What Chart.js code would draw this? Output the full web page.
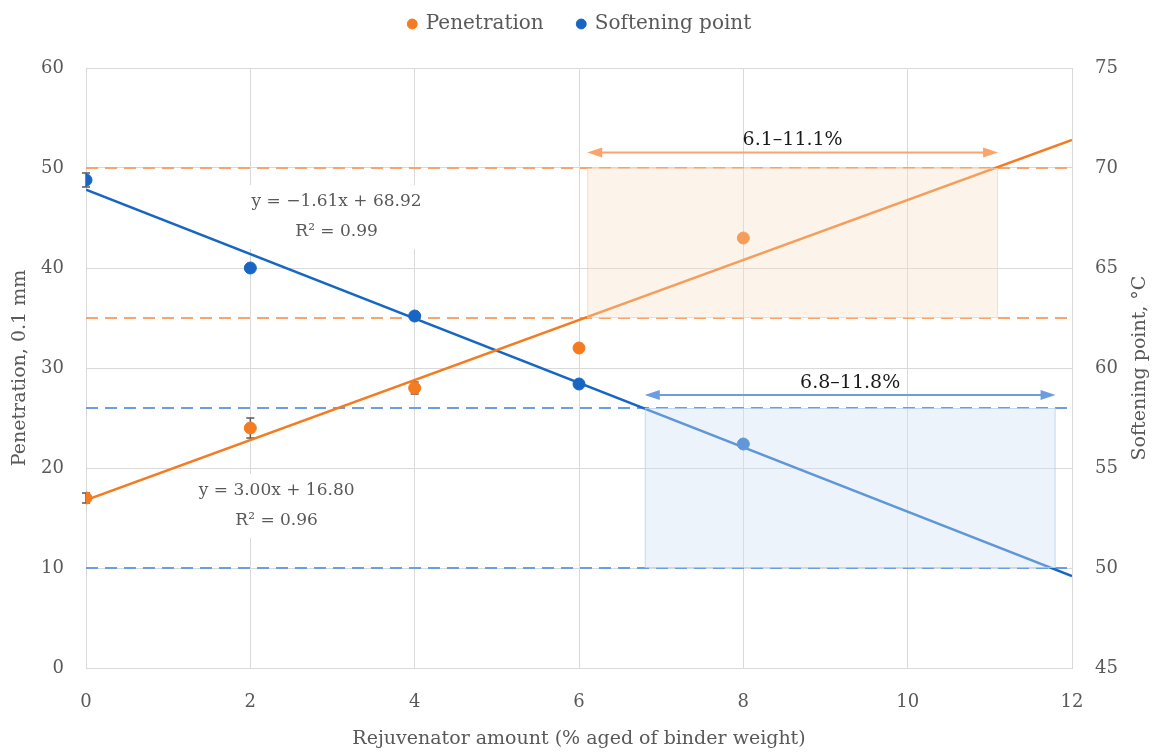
<!DOCTYPE html>
<html>
<head>
<meta charset="utf-8">
<script src="https://cdn.jsdelivr.net/npm/chart.js@4/dist/chart.umd.min.js"></script>
<style>
  html, body { margin: 0; padding: 0; background: #ffffff; }
  #wrap { width: 1160px; height: 754px; position: relative; }
</style>
</head>
<body>
<div id="wrap"><canvas id="chart"></canvas></div>
<script>
// Measured properties vs. rejuvenator dosage
const amounts = [0, 2, 4, 6, 8];
const penetration = [17, 24, 28, 32, 43];          // 0.1 mm
const penetrationErr = [0.5, 1.0, 0.6, 0, 0];
const softening = [69.4, 65.0, 62.6, 59.2, 56.2];   // °C
const softeningErr = [0.35, 0, 0, 0, 0];

// Linear fits
const penFit = { slope: 3.00, intercept: 16.80, r2: 0.96 };
const softFit = { slope: -1.61, intercept: 68.92, r2: 0.99 };

// Specification limits and the dosage ranges that satisfy them
const penLimits = [35, 50];
const softLimits = [50, 58];
const penRange = [6.1, 11.1];
const softRange = [6.8, 11.8];

const xTicks = [0, 2, 4, 6, 8, 10, 12];

const ORANGE = '#F47B20';
const BLUE = '#1766C4';
const ORANGE_LIGHT = '#F9A46C';
const BLUE_LIGHT = '#6C9DE0';
const TEXT = '#595959';
const FONT = "'DejaVu Serif', serif";

const xMin = xTicks[0], xMax = xTicks[xTicks.length - 1];
const fitLine = (f) => [xMin, xMax].map(x => ({ x, y: f.slope * x + f.intercept }));
const points = (vals) => amounts.map((x, i) => ({ x, y: vals[i] }));
const hLine = (v) => [{ x: xMin, y: v }, { x: xMax, y: v }];

const fmtEq = (f) => 'y = ' + (f.slope < 0 ? '\u2212' : '') + Math.abs(f.slope).toFixed(2) +
  'x + ' + f.intercept.toFixed(2);
const fmtR2 = (f) => 'R\u00B2 = ' + f.r2.toFixed(2);

const dashed = (v, color, axis) => ({
  type: 'line', data: hLine(v), yAxisID: axis, borderColor: color, borderWidth: 2,
  borderDash: [12, 7], pointRadius: 0, fill: false
});

const overlays = {
  id: 'overlays',
  beforeDatasetsDraw(chart) {
    const { ctx } = chart;
    const xs = chart.scales.x;
    const sets = [
      { vals: penetration, err: penetrationErr, scale: chart.scales.y },
      { vals: softening, err: softeningErr, scale: chart.scales.y2 }
    ];
    ctx.save();
    ctx.strokeStyle = TEXT;
    ctx.lineWidth = 1.5;
    sets.forEach(s => {
      amounts.forEach((a, i) => {
        if (!s.err[i]) return;
        const px = xs.getPixelForValue(a);
        const y1 = s.scale.getPixelForValue(s.vals[i] + s.err[i]);
        const y2 = s.scale.getPixelForValue(s.vals[i] - s.err[i]);
        ctx.beginPath();
        ctx.moveTo(px, y1); ctx.lineTo(px, y2);
        ctx.moveTo(px - 4, y1); ctx.lineTo(px + 4, y1);
        ctx.moveTo(px - 4, y2); ctx.lineTo(px + 4, y2);
        ctx.stroke();
      });
    });
    ctx.restore();
  },
  afterDatasetsDraw(chart) {
    const { ctx } = chart;
    const xs = chart.scales.x, yl = chart.scales.y, yr = chart.scales.y2;

    const band = (range, lim, scale, fill, stroke) => {
      const x1 = xs.getPixelForValue(range[0]), x2 = xs.getPixelForValue(range[1]);
      const y1 = scale.getPixelForValue(lim[1]), y2 = scale.getPixelForValue(lim[0]);
      ctx.fillStyle = fill;
      ctx.fillRect(x1, y1, x2 - x1, y2 - y1);
      ctx.strokeStyle = stroke;
      ctx.lineWidth = 1;
      ctx.strokeRect(x1 + 0.5, y1 + 0.5, x2 - x1 - 1, y2 - y1 - 1);
    };

    const arrow = (range, level, scale, color) => {
      const x1 = xs.getPixelForValue(range[0]), x2 = xs.getPixelForValue(range[1]);
      const y = scale.getPixelForValue(level);
      const L = 15, H = 5;
      ctx.strokeStyle = color; ctx.fillStyle = color; ctx.lineWidth = 2;
      ctx.beginPath(); ctx.moveTo(x1 + L - 2, y); ctx.lineTo(x2 - L + 2, y); ctx.stroke();
      ctx.beginPath(); ctx.moveTo(x1, y); ctx.lineTo(x1 + L, y - H); ctx.lineTo(x1 + L, y + H); ctx.closePath(); ctx.fill();
      ctx.beginPath(); ctx.moveTo(x2, y); ctx.lineTo(x2 - L, y - H); ctx.lineTo(x2 - L, y + H); ctx.closePath(); ctx.fill();
      ctx.fillStyle = '#1a1a1a';
      ctx.font = '19px ' + FONT;
      ctx.textAlign = 'center';
      ctx.textBaseline = 'middle';
      ctx.fillText(range[0].toFixed(1) + '\u2013' + range[1].toFixed(1) + '%', (x1 + x2) / 2, y - 12);
    };

    const eqLabel = (f, xv, yv) => {
      const cx = xs.getPixelForValue(xv), cy = yl.getPixelForValue(yv);
      const lines = [fmtEq(f), fmtR2(f)];
      ctx.font = '17px ' + FONT;
      const w = Math.max(...lines.map(t => ctx.measureText(t).width)) + 8;
      const lh = 30;
      ctx.fillStyle = '#ffffff';
      ctx.fillRect(cx - w / 2, cy - lh - 2, w, lh * 2 + 4);
      ctx.fillStyle = TEXT;
      ctx.textAlign = 'center';
      ctx.textBaseline = 'middle';
      ctx.fillText(lines[0], cx, cy - lh / 2);
      ctx.fillText(lines[1], cx, cy + lh / 2);
    };

    ctx.save();
    band(penRange, penLimits, yl, 'rgba(246,221,200,0.36)', 'rgba(248,205,175,0.6)');
    band(softRange, softLimits, yr, 'rgba(208,225,243,0.40)', 'rgba(175,207,240,0.7)');
    arrow(penRange, 51.55, yl, ORANGE_LIGHT);
    arrow(softRange, 58.65, yr, BLUE_LIGHT);
    eqLabel(softFit, 3.05, 45.1);
    eqLabel(penFit, 2.32, 16.2);
    ctx.restore();
  },
  afterDraw(chart) {
    // secondary axis title, reading bottom-to-top
    const { ctx } = chart;
    const a = chart.chartArea;
    ctx.save();
    ctx.translate(1140, (a.top + a.bottom) / 2);
    ctx.rotate(-Math.PI / 2);
    ctx.fillStyle = TEXT;
    ctx.font = '19px ' + FONT;
    ctx.textAlign = 'center';
    ctx.textBaseline = 'middle';
    ctx.fillText('Softening point, \u00B0C', 0, 0);
    ctx.restore();
  }
};

new Chart(document.getElementById('chart'), {
  type: 'scatter',
  data: {
    datasets: [
      { label: 'Penetration', data: points(penetration), yAxisID: 'y',
        backgroundColor: ORANGE, borderColor: ORANGE, pointRadius: 6, pointHoverRadius: 6, showLine: false },
      { label: 'Softening point', data: points(softening), yAxisID: 'y2',
        backgroundColor: BLUE, borderColor: BLUE, pointRadius: 6, pointHoverRadius: 6, showLine: false },
      { type: 'line', label: 'pen-fit', data: fitLine(penFit), yAxisID: 'y',
        borderColor: ORANGE, borderWidth: 2.5, pointRadius: 0, fill: false },
      { type: 'line', label: 'soft-fit', data: fitLine(softFit), yAxisID: 'y2',
        borderColor: BLUE, borderWidth: 2.5, pointRadius: 0, fill: false },
      dashed(penLimits[0], ORANGE_LIGHT, 'y'),
      dashed(penLimits[1], ORANGE_LIGHT, 'y'),
      dashed(softLimits[0], BLUE_LIGHT, 'y2'),
      dashed(softLimits[1], BLUE_LIGHT, 'y2')
    ]
  },
  options: {
    responsive: true,
    maintainAspectRatio: false,
    animation: false,
    layout: { padding: { top: -20, left: 0, right: 0, bottom: 0 } },
    plugins: {
      legend: {
        position: 'top',
        labels: {
          filter: (item) => item.datasetIndex < 2,
          usePointStyle: true,
          pointStyle: 'circle',
          boxWidth: 7, boxHeight: 7,
          padding: 34,
          color: TEXT,
          font: { family: FONT, size: 20 }
        }
      },
      // empty spacer between the legend and the plot area
      title: {
        display: true, text: '', position: 'top', weight: 500,
        font: { size: 10 }, padding: { top: 6, bottom: 6 }
      },
      tooltip: { enabled: false }
    },
    scales: {
      x: {
        type: 'linear', min: xMin, max: xMax,
        afterBuildTicks: (s) => { s.ticks = xTicks.map(v => ({ value: v })); },
        grid: { color: '#D9D9D9', lineWidth: 1, drawTicks: false },
        border: { color: '#D9D9D9' },
        ticks: { color: TEXT, font: { family: FONT, size: 18 }, padding: 24 },
        title: { display: true, text: 'Rejuvenator amount (% aged of binder weight)',
          color: TEXT, font: { family: FONT, size: 19 }, padding: { top: 0, bottom: 4 } },
        afterFit: (s) => { s.height = 86; }
      },
      y: {
        type: 'linear', position: 'left', min: 0, max: 60,
        ticks: { stepSize: 10, color: TEXT, font: { family: FONT, size: 18 }, padding: 22 },
        grid: { color: '#D9D9D9', lineWidth: 1, drawTicks: false },
        border: { color: '#D9D9D9' },
        title: { display: true, text: 'Penetration, 0.1 mm', color: TEXT,
          font: { family: FONT, size: 19 }, padding: { top: 9, bottom: 0 } },
        afterFit: (s) => { s.width = 86; }
      },
      y2: {
        type: 'linear', position: 'right', min: 45, max: 75,
        ticks: { stepSize: 5, color: TEXT, font: { family: FONT, size: 18 }, padding: 23 },
        grid: { drawOnChartArea: false, drawTicks: false },
        border: { color: '#D9D9D9' },
        afterFit: (s) => { s.width = 88; }
      }
    }
  },
  plugins: [overlays]
});
</script>
</body>
</html>
